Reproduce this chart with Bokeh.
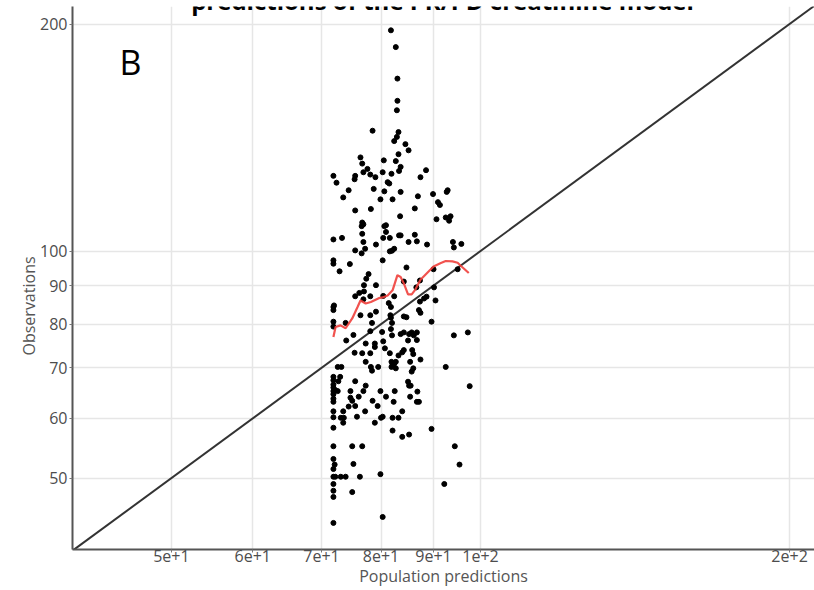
from bokeh.plotting import figure
from bokeh.models import FixedTicker, Label, Title
from bokeh.embed import file_html
from bokeh.resources import INLINE

# Population predictions vs. observed creatinine (log-log)
pred = [
    81.8, 82.7, 83.0, 83.0, 82.9, 78.5, 83.2, 82.9, 82.4, 84.5, 85.1, 83.2, 76.4, 80.5, 82.7, 76.7,
    83.6, 77.6, 88.5, 76.9, 80.3, 83.3, 78.1, 81.9, 71.9, 75.5, 79.0, 87.4, 75.4, 72.4, 81.2, 81.5,
    74.4, 78.7, 83.6, 80.6, 89.9, 92.7, 92.9, 73.5, 86.9, 79.9, 82.1, 90.9, 91.3, 75.5, 78.2, 86.3,
    83.5, 90.6, 92.5, 93.5, 93.2, 76.7, 76.9, 80.9,
    71.9, 73.3, 76.6, 76.7, 80.6, 80.9, 76.9, 79.1, 80.4, 81.6, 83.3, 83.6, 86.3, 85.1, 86.7, 88.7,
    94.0, 94.2, 95.8, 75.5, 77.2, 76.6, 82.4, 82.0, 81.6, 71.9, 71.9, 74.6, 80.3, 72.9, 84.7, 77.8,
    77.4, 79.1, 77.0, 77.0, 90.0, 95.0, 87.3, 84.2, 86.6, 90.1, 75.5, 76.2, 78.1, 80.4, 82.4, 81.4,
    76.9, 88.1, 88.6, 90.4, 72.0,
    71.9, 71.9, 71.9, 71.9, 76.4, 78.1, 79.1, 81.8, 81.7, 78.4, 81.8, 82.0, 84.2, 84.7, 87.1, 87.4,
    89.6, 87.3, 73.9, 74.0, 75.2, 78.1, 80.2, 82.0, 81.8, 83.6, 84.2, 85.2, 85.7, 86.1, 86.7, 85.0,
    86.7, 94.2, 97.2, 77.3, 78.9, 80.4, 80.7, 78.9, 78.1, 75.4, 76.7, 81.6, 83.2, 83.9, 84.2, 85.8,
    86.0, 87.4, 77.3, 81.9, 82.1, 82.4, 82.7, 82.7, 81.9, 85.4, 86.0, 85.7, 72.6, 73.2, 78.2, 78.4,
    79.5, 92.5,
    71.9, 71.9, 71.9, 71.9, 71.9, 71.9, 71.9, 71.9, 73.0, 72.7, 72.2, 72.6, 75.5, 77.3, 76.9, 74.7,
    74.7, 75.0, 76.1, 79.9, 82.5, 80.9, 78.5, 82.3, 85.0, 85.2, 85.5, 86.8, 85.4, 86.7, 87.1, 97.6,
    74.4, 75.5, 79.4, 77.2, 83.9, 71.9, 71.9, 73.5, 73.1, 73.6, 73.5, 75.8, 80.0, 80.3, 82.1, 83.2,
    78.9, 71.9, 82.1, 83.9, 85.2, 89.6, 71.9, 75.0, 76.7, 94.4,
    71.9, 72.1, 71.9, 75.2, 95.4, 71.9, 72.2, 73.1, 73.9, 76.3, 79.9, 71.9, 92.2, 71.9, 75.0, 71.9,
    80.3, 71.9,
]
obs = [
    196.2, 186.4, 169.3, 158.2, 153.7, 144.4, 143.8, 141.7, 139.9, 138.6, 136.0, 134.4, 133.1, 131.9, 131.6, 130.6,
    129.3, 128.5, 128.0, 127.2, 127.2, 127.7, 126.3, 126.6, 125.8, 125.8, 125.3, 125.3, 124.5, 123.2, 123.4, 122.9,
    120.4, 120.9, 119.8, 120.0, 119.0, 119.8, 120.4, 117.8, 118.2, 117.1, 117.1, 116.1, 115.1, 113.2, 113.7, 113.9,
    111.2, 110.2, 110.8, 111.2, 109.7, 109.1, 108.5, 108.2,
    103.6, 104.1, 107.9, 105.4, 107.9, 106.0, 102.8, 102.0, 104.1, 104.1, 104.9, 104.9, 105.1, 102.8, 103.0, 102.0,
    102.8, 101.1, 102.2, 100.2, 100.7, 99.3, 100.7, 100.1, 99.9, 97.2, 96.2, 96.1, 97.2, 94.0, 95.1, 93.2,
    91.9, 90.1, 90.1, 88.4, 94.6, 94.6, 91.4, 91.1, 89.5, 89.5, 87.1, 88.0, 87.1, 87.2, 87.1, 85.3,
    86.3, 86.5, 87.0, 86.0, 84.7,
    84.3, 83.5, 80.6, 79.4, 82.2, 82.2, 83.1, 84.3, 82.2, 80.3, 81.6, 80.3, 81.9, 81.7, 83.5, 82.8,
    80.6, 85.7, 80.3, 76.1, 77.4, 78.3, 78.1, 77.3, 78.8, 77.6, 78.0, 77.6, 78.0, 77.3, 78.0, 76.1,
    76.2, 77.3, 78.0, 75.4, 75.4, 75.9, 74.3, 74.6, 73.2, 73.3, 73.2, 73.2, 72.7, 73.4, 73.9, 73.9,
    73.0, 71.8, 71.3, 71.3, 70.6, 70.9, 71.3, 69.9, 70.2, 71.3, 69.9, 69.2, 70.2, 70.2, 70.2, 69.4,
    70.2, 70.2,
    68.1, 67.4, 66.5, 65.9, 65.2, 64.6, 63.7, 63.1, 68.1, 67.2, 65.4, 65.2, 67.2, 66.3, 65.2, 65.2,
    63.9, 63.3, 64.1, 65.2, 65.2, 64.1, 63.3, 63.1, 67.1, 66.3, 66.3, 65.1, 64.1, 63.1, 63.1, 66.2,
    62.2, 62.3, 62.3, 61.3, 61.3, 61.3, 60.2, 61.3, 60.1, 60.1, 59.2, 60.3, 60.1, 60.3, 60.1, 60.1,
    59.2, 58.3, 57.8, 56.7, 57.1, 58.1, 55.1, 55.1, 55.1, 55.1,
    53.0, 52.1, 51.4, 52.2, 52.1, 50.2, 50.2, 50.2, 50.2, 50.2, 50.6, 49.1, 49.1, 48.1, 47.9, 47.2,
    44.4, 43.6,
]

# Smoothed trend of observations
trend_x = [71.9, 72.25, 73.05, 73.9, 75.0, 75.9, 76.4, 77.3, 78.2, 79.6, 80.3, 81.2, 82.1, 83.0,
           83.6, 84.2, 85.0, 85.7, 86.4, 87.4, 89.4, 90.0, 91.5, 92.5, 93.9, 95.0, 95.6, 97.4]
trend_y = [76.9, 79.3, 79.7, 79.0, 81.4, 84.3, 86.0, 85.2, 85.6, 86.6, 86.8, 87.3, 88.7, 92.9,
           92.4, 90.6, 87.6, 87.6, 88.9, 91.6, 94.5, 95.4, 96.4, 97.0, 96.9, 96.5, 95.7, 93.5]

# Identity line
ident = [40.0, 220.0]

x_ticks = [50, 60, 70, 80, 90, 100, 200]
x_tick_labels = ["5e+1", "6e+1", "7e+1", "8e+1", "9e+1", "1e+2", "2e+2"]
y_ticks = [50, 60, 70, 80, 90, 100, 200]
y_tick_labels = ["50", "60", "70", "80", "90", "100", "200"]

FONT = "Open Sans"
W, H = 814, 590
LEFT, BOTTOM = 72, 41
PAD = 80  # padding that lets margin texts share the frame's box


def canvas_label(cx, cy, text, **kw):
    """Text placed in canvas pixels, origin at the top-left corner."""
    return Label(x=cx, y=cy, x_units="canvas", y_units="canvas", text=text, **kw)


p = figure(width=W, height=H, x_axis_type="log", y_axis_type="log",
           x_range=(40.05, 211.5), y_range=(40.2, 211.0),
           output_backend="svg", toolbar_location=None,
           min_border_left=LEFT, min_border_right=0, min_border_top=6, min_border_bottom=BOTTOM)
p.outline_line_color = None
p.background_fill_color = "white"

p.xaxis.ticker = FixedTicker(ticks=x_ticks)
p.yaxis.ticker = FixedTicker(ticks=y_ticks)
p.xaxis.major_label_overrides = {float(t): s for t, s in zip(x_ticks, x_tick_labels)}
p.yaxis.major_label_overrides = {float(t): s for t, s in zip(y_ticks, y_tick_labels)}

for ax in (p.xaxis[0], p.yaxis[0]):
    ax.axis_line_color = "#555555"
    ax.axis_line_width = 2
    ax.major_tick_line_color = "#777777"
    ax.major_tick_in = 0
    ax.major_tick_out = 3
    ax.minor_tick_line_color = None
    ax.major_label_text_font = FONT
    ax.major_label_text_font_size = "16px"
    ax.major_label_text_color = "#4d4d4d"
    ax.axis_label_text_font = FONT
    ax.axis_label_text_font_size = "16px"
    ax.axis_label_text_font_style = "normal"
    ax.axis_label_text_color = "#555555"

p.xaxis.major_label_standoff = -3
p.yaxis.major_label_standoff = 2
p.yaxis.major_label_orientation = "horizontal"

p.xaxis.axis_label = "Population predictions"
p.xaxis.axis_label_standoff = 0

# y-axis title sits a little below the frame's centre, so it is a side title
p.add_layout(Title(text="Observations", align="left", offset=194, standoff=-5,
                   text_font=FONT, text_font_size="16px", text_font_style="normal",
                   text_color="#555555"), "left")

p.xgrid.grid_line_color = "#e6e6e6"
p.ygrid.grid_line_color = "#e6e6e6"
p.xgrid.grid_line_width = 1.5
p.ygrid.grid_line_width = 1.5

p.line(ident, ident, line_color="#333333", line_width=2)
p.scatter(pred, obs, size=5, color="black", line_color="black")
p.line(trend_x, trend_y, line_color="#f0403c", line_width=2.2, line_alpha=0.9)

# Panel letter
p.add_layout(canvas_label(119, 61, "B", text_baseline="middle", text_font=FONT,
                          text_font_size="34px", text_color="black"))

# Title, running off the top of the canvas
p.add_layout(canvas_label(442, 0, "predictions of the PK/PD creatinine model",
                          text_align="center", text_baseline="middle", text_font=FONT,
                          text_font_size="24px", text_font_style="bold", text_color="black"))

# Tick marks of the neighbouring panel along the left edge
for k in range(11):
    p.add_layout(canvas_label(-PAD, 18 + 52.7 * k, "\u2013", padding=PAD, text_baseline="middle",
                              text_font=FONT, text_font_size="10px", text_color="#c8c8c8"))

p.add_layout(canvas_label(-PAD, 576, "i", padding=PAD, text_baseline="middle", text_font=FONT,
                          text_font_size="14px", text_color="black"))

open("out.html", "w").write(file_html(p, INLINE))
